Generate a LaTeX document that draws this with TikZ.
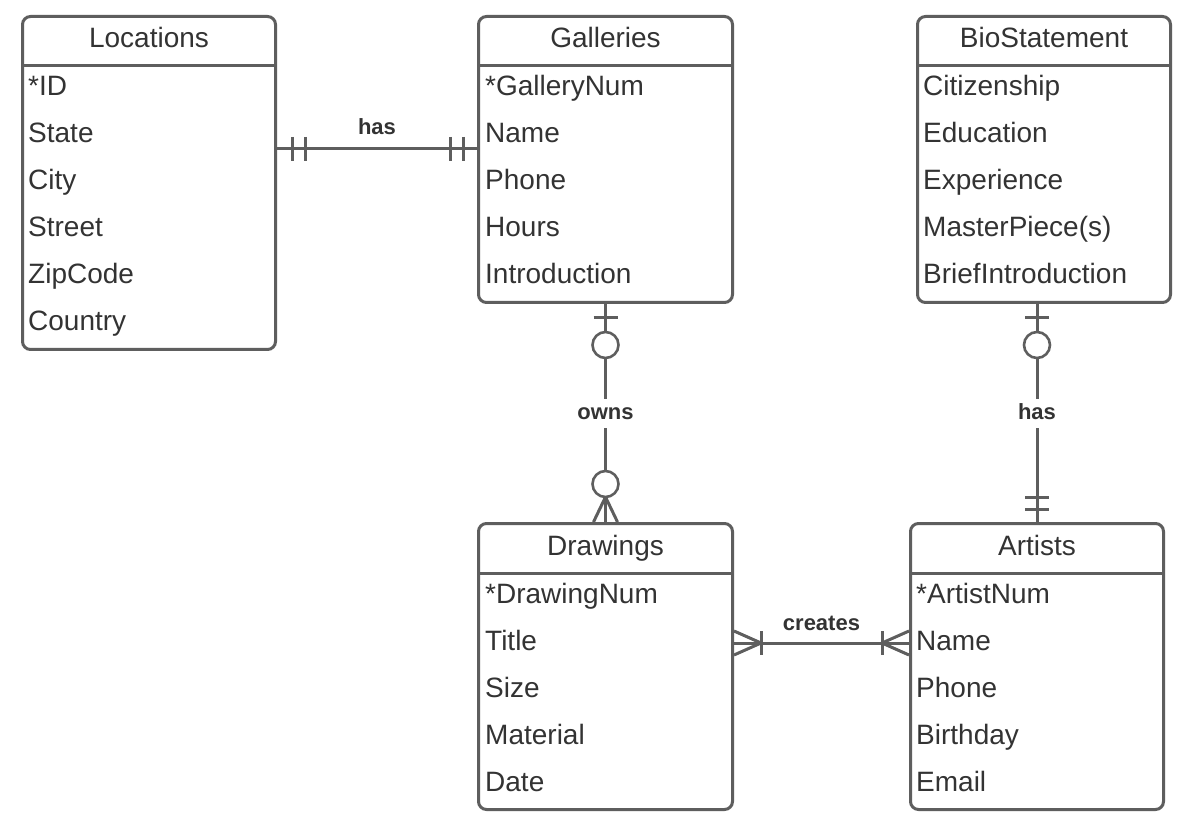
\documentclass[tikz,border=0pt]{standalone}
\usepackage{fontspec}
\setmainfont{Liberation Sans}
\usetikzlibrary{calc}
\definecolor{ln}{HTML}{5E5E5E}
\definecolor{tx}{HTML}{333333}
\tikzset{
  entity/.style={draw=ln, line width=3pt, rounded corners=8pt, anchor=north west, inner sep=0pt, fill=white},
  sep/.style={draw=ln, line width=3pt},
  title/.style={font=\fontsize{28}{32}\selectfont, text=tx, anchor=base, inner sep=0pt},
  row/.style={font=\fontsize{28}{32}\selectfont, text=tx, anchor=base west, inner sep=0pt},
  rel/.style={draw=ln, line width=3pt},
  tick/.style={draw=ln, line width=3pt},
  circ/.style={circle, draw=ln, line width=2.6pt, fill=white, minimum size=26pt, inner sep=0pt},
  lbl/.style={font=\bfseries\fontsize{22}{26}\selectfont, text=tx, inner sep=0pt},
  gaplbl/.style={font=\bfseries\fontsize{22}{26}\selectfont, text=tx, fill=white, text height=14pt, text depth=0pt, inner sep=7.5pt},
}
\begin{document}
\begin{tikzpicture}[x=1pt,y=-1pt]
\useasboundingbox[fill=white] (0,0) rectangle (1192,826);

% ---------- Locations ----------
\node[entity, minimum width=253pt, minimum height=333pt] (loc) at (21,15) {};
\draw[sep] ([yshift=-51pt]loc.north west) -- ([yshift=-51pt]loc.north east);
\node[title] (loc-t) at ([yshift=-33pt]loc.north) {Locations};
\foreach \t [count=\i from 0] in {*ID,State,City,Street,ZipCode,Country}
  \node[row] (loc-r\i) at ([xshift=7pt,yshift={-81-47*\i}]loc.north west) {\t};

% ---------- Galleries ----------
\node[entity, minimum width=254pt, minimum height=286pt] (gal) at (477,15) {};
\draw[sep] ([yshift=-51pt]gal.north west) -- ([yshift=-51pt]gal.north east);
\node[title] (gal-t) at ([yshift=-33pt]gal.north) {Galleries};
\foreach \t [count=\i from 0] in {*GalleryNum,Name,Phone,Hours,Introduction}
  \node[row] (gal-r\i) at ([xshift=8pt,yshift={-81-47*\i}]gal.north west) {\t};

% ---------- BioStatement ----------
\node[entity, minimum width=253pt, minimum height=286pt] (bio) at (916,15) {};
\draw[sep] ([yshift=-51pt]bio.north west) -- ([yshift=-51pt]bio.north east);
\node[title] (bio-t) at ([yshift=-33pt]bio.north) {BioStatement};
\foreach \t [count=\i from 0] in {Citizenship,Education,Experience,MasterPiece(s),BriefIntroduction}
  \node[row] (bio-r\i) at ([xshift=7pt,yshift={-81-47*\i}]bio.north west) {\t};

% ---------- Drawings ----------
\node[entity, minimum width=254pt, minimum height=286pt] (drw) at (477,522) {};
\draw[sep] ([yshift=-51pt]drw.north west) -- ([yshift=-51pt]drw.north east);
\node[title] (drw-t) at ([yshift=-33pt]drw.north) {Drawings};
\foreach \t [count=\i from 0] in {*DrawingNum,Title,Size,Material,Date}
  \node[row] (drw-r\i) at ([xshift=8pt,yshift={-81-47*\i}]drw.north west) {\t};

% ---------- Artists ----------
\node[entity, minimum width=253pt, minimum height=286pt] (art) at (909,522) {};
\draw[sep] ([yshift=-51pt]art.north west) -- ([yshift=-51pt]art.north east);
\node[title] (art-t) at ([yshift=-33pt]art.north) {Artists};
\foreach \t [count=\i from 0] in {*ArtistNum,Name,Phone,Birthday,Email}
  \node[row] (art-r\i) at ([xshift=7pt,yshift={-81-47*\i}]art.north west) {\t};

% ---------- Locations -- Galleries : has ----------
\coordinate (h1a) at ([yshift=-134pt]loc.north east);
\coordinate (h1b) at ([yshift=-134pt]gal.north west);
\draw[rel] (h1a) -- node[lbl, anchor=base, yshift=14pt] (h1lbl) {has} (h1b);
\draw[tick] ([xshift=15pt,yshift=12pt]h1a) -- ([xshift=15pt,yshift=-12pt]h1a);
\draw[tick] ([xshift=28pt,yshift=12pt]h1a) -- ([xshift=28pt,yshift=-12pt]h1a);
\draw[tick] ([xshift=-14pt,yshift=12pt]h1b) -- ([xshift=-14pt,yshift=-12pt]h1b);
\draw[tick] ([xshift=-27pt,yshift=12pt]h1b) -- ([xshift=-27pt,yshift=-12pt]h1b);

% ---------- Galleries -- Drawings : owns ----------
\draw[rel] (gal.south) -- node[gaplbl] (owlbl) {owns} (drw.north);
\draw[tick] ([xshift=-12pt,yshift=-14pt]gal.south) -- ([xshift=12pt,yshift=-14pt]gal.south);
\node[circ] (owc1) at ([yshift=-41pt]gal.south) {};
\draw[tick] ([yshift=25pt]drw.north) -- ([xshift=-12pt]drw.north);
\draw[tick] ([yshift=25pt]drw.north) -- ([xshift=12pt]drw.north);
\node[circ] (owc2) at ([yshift=38pt]drw.north) {};

% ---------- BioStatement -- Artists : has ----------
\coordinate (h2a) at (art.north |- bio.south);
\draw[rel] (h2a) -- node[gaplbl] (h2lbl) {has} (art.north);
\draw[tick] ([xshift=-12pt,yshift=-14pt]h2a) -- ([xshift=12pt,yshift=-14pt]h2a);
\node[circ] (h2c) at ([yshift=-41pt]h2a) {};
\draw[tick] ([xshift=-12pt,yshift=25pt]art.north) -- ([xshift=12pt,yshift=25pt]art.north);
\draw[tick] ([xshift=-12pt,yshift=13pt]art.north) -- ([xshift=12pt,yshift=13pt]art.north);

% ---------- Drawings -- Artists : creates ----------
\coordinate (cra) at ([yshift=-121pt]drw.north east);
\coordinate (crb) at ([yshift=-121pt]art.north west);
\draw[rel] (cra) -- node[lbl, anchor=base, yshift=13pt] (crlbl) {creates} (crb);
\draw[tick] ([xshift=27pt,yshift=12pt]cra) -- ([xshift=27pt,yshift=-12pt]cra);
\draw[tick] ([yshift=12pt]cra) -- ([xshift=27pt]cra) -- ([yshift=-12pt]cra);
\draw[tick] ([xshift=-27pt,yshift=12pt]crb) -- ([xshift=-27pt,yshift=-12pt]crb);
\draw[tick] ([yshift=12pt]crb) -- ([xshift=-27pt]crb) -- ([yshift=-12pt]crb);
\end{tikzpicture}
\end{document}
